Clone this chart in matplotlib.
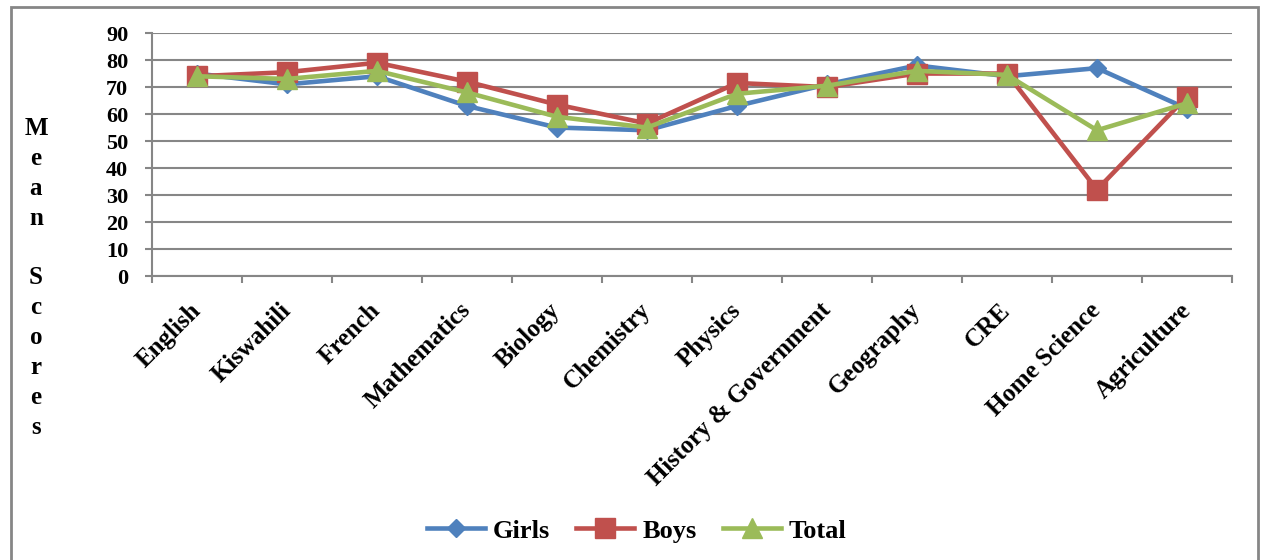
import matplotlib.pyplot as plt
from matplotlib.patches import Rectangle

subjects = ['English', 'Kiswahili', 'French', 'Mathematics', 'Biology', 'Chemistry',
            'Physics', 'History & Government', 'Geography', 'CRE', 'Home Science',
            'Agriculture']
girls = [75, 71, 74, 63, 55, 54, 63, 71, 78, 74, 77, 62]
boys = [74, 75.5, 79, 72, 63.5, 56.5, 71.5, 70, 75, 75, 32, 66.5]
total = [74, 73, 76, 68, 59, 55, 67.5, 70.5, 76, 74.5, 54, 64]
y_ticks = [0, 10, 20, 30, 40, 50, 60, 70, 80, 90]

plt.rcParams['font.family'] = 'Liberation Serif'
plt.rcParams['font.weight'] = 'bold'

fig = plt.figure(figsize=(12.61, 5.6), dpi=100)
ax = fig.add_axes([0.1205, 0.507, 0.8565, 0.434])

x = range(len(subjects))
ax.plot(x, girls, color='#4F81BD', lw=3.3, marker='D', ms=9, label='Girls', zorder=3)
ax.plot(x, boys, color='#C0504D', lw=3.3, marker='s', ms=14, label='Boys', zorder=4)
ax.plot(x, total, color='#9BBB59', lw=3.3, marker='^', ms=14, label='Total', zorder=5)

ax.set_xlim(-0.5, len(subjects) - 0.5)
ax.set_ylim(0, 90)
ax.set_yticks(y_ticks)
ax.yaxis.grid(True, color='#868686', lw=1.5)
ax.set_axisbelow(True)

# category labels at centres, tick marks on the boundaries
ax.set_xticks(list(x))
ax.set_xticklabels(subjects, rotation=45, ha='right', va='center',
                   rotation_mode='anchor', fontsize=18, fontweight='bold')
ax.set_xticks([i + 0.5 for i in range(-1, len(subjects))], minor=True)
ax.tick_params(axis='x', which='major', length=0, pad=22)
ax.tick_params(axis='x', which='minor', length=5, width=1.5, color='#868686', direction='out')
ax.tick_params(axis='y', length=5, width=1.5, color='#868686', pad=12, labelsize=16)

for side in ['top', 'right']:
    ax.spines[side].set_visible(False)
for side in ['left', 'bottom']:
    ax.spines[side].set_color('#868686')
    ax.spines[side].set_linewidth(1.5)

fig.text(36 / 1261, 1 - 278 / 560, 'M\ne\na\nn\n\nS\nc\no\nr\ne\ns',
         ha='center', va='center', fontsize=18, fontweight='bold', linespacing=1.38)

fig.legend(loc='center', bbox_to_anchor=(0.505, 0.052), ncol=3, frameon=False,
           prop={'size': 19, 'weight': 'bold'}, handlelength=2.2,
           handletextpad=0.3, columnspacing=1.0)

fig.patches.append(Rectangle((11 / 1261, -0.05), 1247 / 1261, 1.05 - 7 / 560,
                             transform=fig.transFigure, fill=False,
                             edgecolor='#868686', lw=2))

fig.savefig('out.png', dpi=100)
